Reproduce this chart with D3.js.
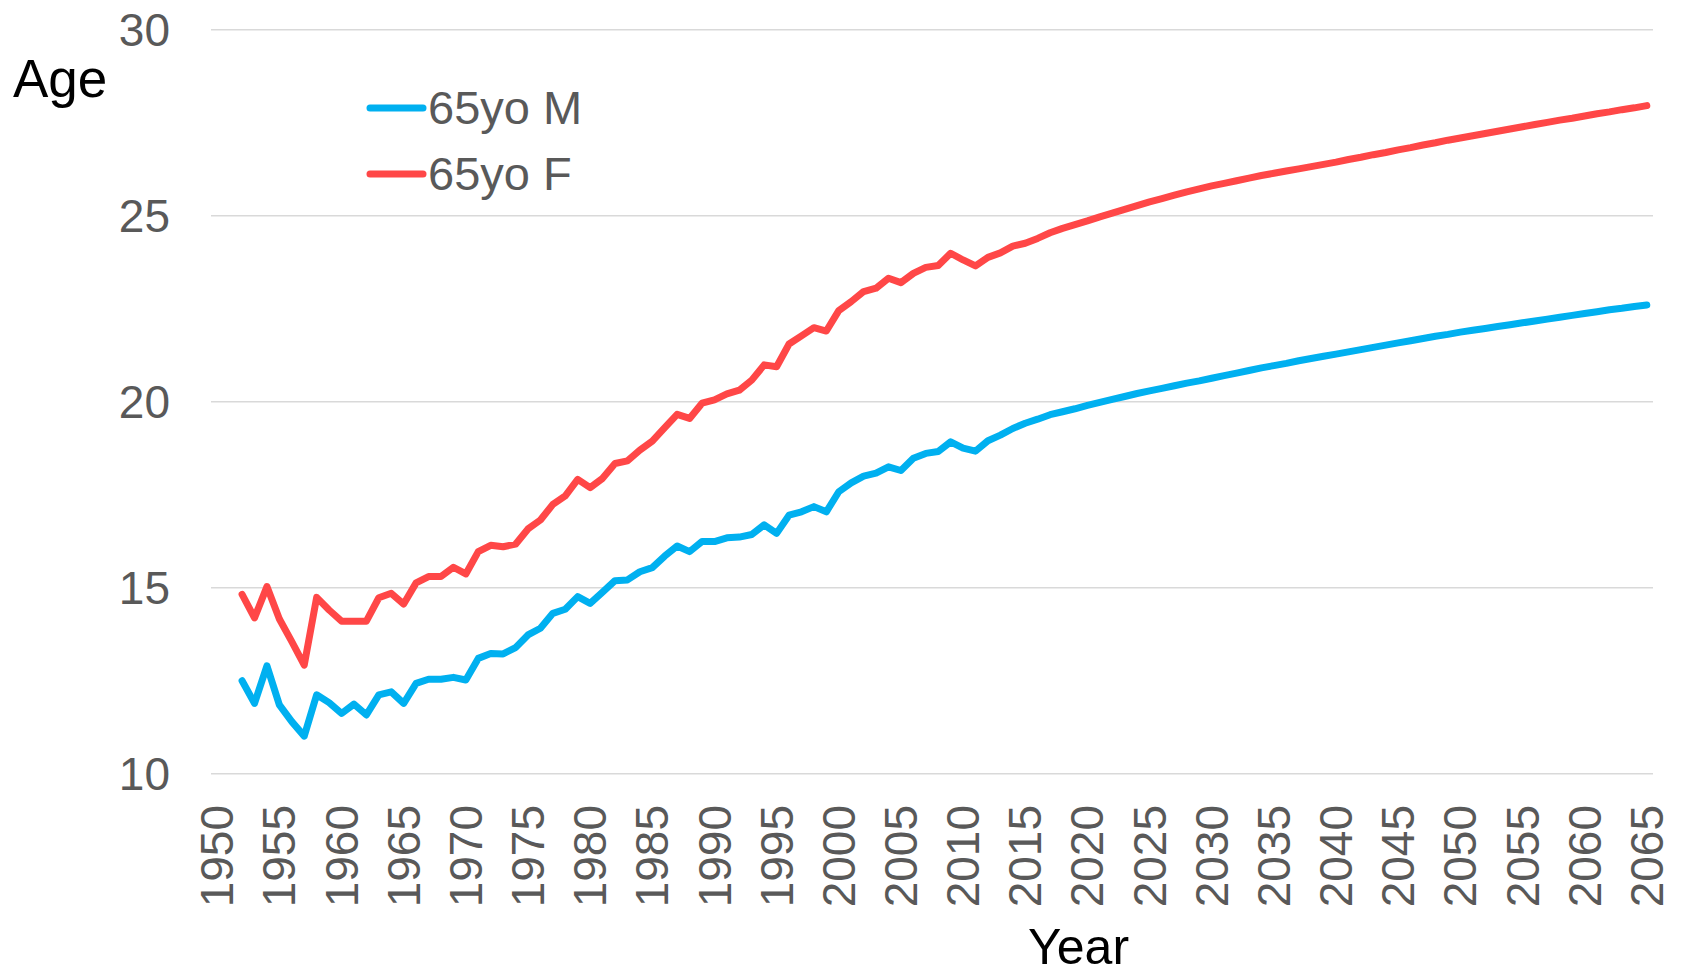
<!DOCTYPE html>
<html>
<head>
<meta charset="utf-8">
<script src="https://cdn.jsdelivr.net/npm/d3@7/dist/d3.min.js"></script>
<style>
  html, body { margin: 0; padding: 0; background: #fff; }
  svg { display: block; font-family: "Liberation Sans", Arial, sans-serif; }
</style>
</head>
<body>
<svg id="chart" width="1683" height="977"></svg>
<script>
// Remaining life expectancy at age 65, by year (observed then projected)
const firstYear = 1952;
const lastYear = 2065;
const axisYears = d3.range(1950, 2066);          // category axis, one slot per year
const tickYears = [1950, 1955, 1960, 1965, 1970, 1975, 1980, 1985, 1990, 1995, 2000,
                   2005, 2010, 2015, 2020, 2025, 2030, 2035, 2040, 2045, 2050, 2055, 2060, 2065];
const ageTicks = [10, 15, 20, 25, 30];

const male65 = [
  12.50, 11.89, 12.90, 11.85, 11.40, 11.01, 12.12, 11.91,                 // 1952-1959
  11.62, 11.87, 11.58, 12.12, 12.20, 11.89, 12.43, 12.54, 12.54, 12.59,   // 1960s
  12.52, 13.10, 13.23, 13.22, 13.39, 13.73, 13.91, 14.31, 14.42, 14.76,   // 1970s
  14.58, 14.88, 15.19, 15.21, 15.43, 15.54, 15.85, 16.12, 15.97, 16.24,   // 1980s
  16.24, 16.34, 16.36, 16.43, 16.69, 16.46, 16.95, 17.04, 17.18, 17.04,   // 1990s
  17.58, 17.82, 18.00, 18.08, 18.25, 18.15, 18.48, 18.61, 18.66, 18.92,   // 2000s
  18.75, 18.67, 18.95, 19.10, 19.28, 19.42, 19.53, 19.65, 19.73, 19.81,   // 2010s
  19.90, 19.98, 20.06, 20.14, 20.22, 20.29, 20.36, 20.43, 20.50, 20.56,   // 2020s
  20.63, 20.70, 20.77, 20.84, 20.91, 20.97, 21.03, 21.10, 21.16, 21.22,   // 2030s
  21.28, 21.34, 21.40, 21.46, 21.52, 21.58, 21.64, 21.70, 21.76, 21.81,   // 2040s
  21.87, 21.92, 21.97, 22.02, 22.07, 22.12, 22.17, 22.22, 22.27, 22.32,   // 2050s
  22.37, 22.42, 22.47, 22.51, 22.56, 22.60                                // 2060-2065
];

const female65 = [
  14.82, 14.19, 15.03, 14.16, 13.55, 12.92, 14.74, 14.40,                 // 1952-1959
  14.10, 14.10, 14.10, 14.73, 14.85, 14.56, 15.13, 15.30, 15.30, 15.55,   // 1960s
  15.37, 15.97, 16.14, 16.10, 16.17, 16.58, 16.82, 17.24, 17.47, 17.91,   // 1970s
  17.69, 17.94, 18.34, 18.41, 18.70, 18.94, 19.30, 19.66, 19.55, 19.96,   // 1980s
  20.05, 20.21, 20.31, 20.58, 20.99, 20.94, 21.55, 21.77, 21.99, 21.90,   // 1990s
  22.45, 22.69, 22.96, 23.05, 23.32, 23.20, 23.45, 23.61, 23.66, 23.99,   // 2000s
  23.81, 23.65, 23.88, 24.00, 24.18, 24.26, 24.39, 24.54, 24.66, 24.76,   // 2010s
  24.86, 24.97, 25.07, 25.17, 25.27, 25.37, 25.46, 25.55, 25.64, 25.72,   // 2020s
  25.80, 25.87, 25.94, 26.01, 26.08, 26.14, 26.20, 26.26, 26.32, 26.38,   // 2030s
  26.44, 26.51, 26.57, 26.64, 26.70, 26.77, 26.83, 26.90, 26.96, 27.03,   // 2040s
  27.09, 27.15, 27.21, 27.27, 27.33, 27.39, 27.45, 27.51, 27.57, 27.62,   // 2050s
  27.68, 27.74, 27.79, 27.85, 27.90, 27.96                                // 2060-2065
];

const seriesNames = ["65yo M", "65yo F"];
const seriesColors = ["#00b0f0", "#ff4747"];

const svg = d3.select("#chart");
const plot = { left: 211, right: 1653, top: 29.7, bottom: 773.7 };

const x = d3.scaleBand().domain(axisYears).range([plot.left, plot.right]).padding(0);
const cx = yr => x(yr) + x.bandwidth() / 2;
const y = d3.scaleLinear().domain([10, 30]).range([plot.bottom, plot.top]);

// horizontal gridlines
svg.append("g")
  .selectAll("line")
  .data(ageTicks)
  .join("line")
  .attr("x1", plot.left).attr("x2", plot.right)
  .attr("y1", d => y(d)).attr("y2", d => y(d))
  .attr("stroke", "#d9d9d9").attr("stroke-width", 1.6);

// y tick labels
svg.append("g")
  .selectAll("text")
  .data(ageTicks)
  .join("text")
  .attr("x", 170).attr("y", d => y(d)).attr("dy", "0.35em")
  .attr("text-anchor", "end")
  .attr("font-size", 46).attr("fill", "#595959")
  .text(d => d);

// x tick labels, vertical
svg.append("g")
  .selectAll("text")
  .data(tickYears)
  .join("text")
  .attr("transform", d => `translate(${cx(d)},805) rotate(-90)`)
  .attr("dy", "0.35em")
  .attr("text-anchor", "end")
  .attr("font-size", 46).attr("fill", "#595959")
  .text(d => d);

// axis titles
svg.append("text").attr("x", 13).attr("y", 97)
  .attr("font-size", 53).attr("fill", "#000").text("Age");
svg.append("text").attr("x", 1028).attr("y", 964)
  .attr("font-size", 50).attr("fill", "#000").text("Year");

// series lines
const years = d3.range(firstYear, lastYear + 1);
const line = d3.line().x((d, i) => cx(years[i])).y(d => y(d));
[male65, female65].forEach((vals, k) => {
  svg.append("path")
    .datum(vals)
    .attr("d", line)
    .attr("fill", "none")
    .attr("stroke", seriesColors[k])
    .attr("stroke-width", 7)
    .attr("stroke-linejoin", "round")
    .attr("stroke-linecap", "round");
});

// legend
const legend = svg.append("g");
seriesNames.forEach((name, k) => {
  const ly = 108 + k * 66;
  legend.append("line")
    .attr("x1", 370).attr("x2", 423)
    .attr("y1", ly).attr("y2", ly)
    .attr("stroke", seriesColors[k]).attr("stroke-width", 7)
    .attr("stroke-linecap", "round");
  legend.append("text")
    .attr("x", 428).attr("y", ly).attr("dy", "0.35em")
    .attr("font-size", 47).attr("fill", "#595959")
    .text(name);
});
</script>
</body>
</html>
